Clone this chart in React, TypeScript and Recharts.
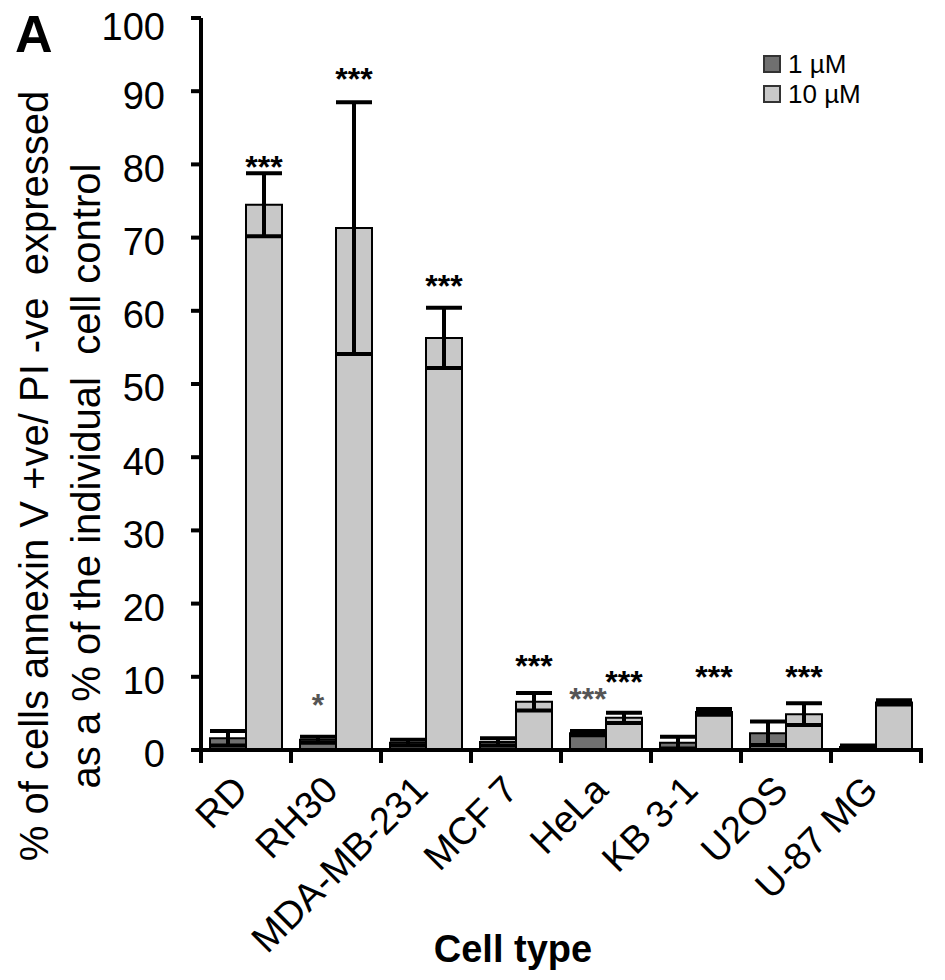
import React from 'react';
import { ComposedChart, Bar, ErrorBar, XAxis, YAxis, Scatter, Legend, Label } from 'recharts';

const cellTypes = ['RD', 'RH30', 'MDA-MB-231', 'MCF 7', 'HeLa', 'KB 3-1', 'U2OS', 'U-87 MG'];
const mean1uM = [1.6, 1.4, 1.0, 1.1, 2.3, 1.0, 2.3, 0.4];
const err1uM = [1.0, 0.4, 0.4, 0.5, 0.3, 0.8, 1.6, 0.2];
const mean10uM = [74.5, 71.3, 56.3, 6.6, 4.4, 5.2, 4.9, 6.5];
const err10uM = [4.3, 17.2, 4.1, 1.2, 0.7, 0.4, 1.5, 0.3];
const sig1uM = ['', '*', '', '', '***', '', '', ''];
const sig10uM = ['***', '***', '***', '***', '***', '***', '***', ''];
const sigLevel1uM = [null, 7.2, null, null, 7.9, null, null, null];
const sigLevel10uM = [80.6, 92.7, 64.4, 12.4, 10.3, 11.0, 11.0, null];
const yTicks = [0, 10, 20, 30, 40, 50, 60, 70, 80, 90, 100];
const seriesNames = ['1 µM', '10 µM'];

const data = cellTypes.map((name, i) => ({
  name,
  v1: mean1uM[i],
  e1: err1uM[i],
  v10: mean10uM[i],
  e10: err10uM[i],
  s1: sig1uM[i],
  s10: sig10uM[i],
  l1: sigLevel1uM[i] ?? 0,
  l10: sigLevel10uM[i] ?? 0,
}));

const FONT = '"Liberation Sans", Arial, Helvetica, sans-serif';
const DARK = '#707070';
const LIGHT = '#c8c8c8';
const BAR = 36;

const XTick = (props: any) => {
  const { x, y, payload, index, visibleTicksCount } = props;
  const half = payload && typeof payload.offset === 'number' && payload.offset > 0 ? payload.offset : 45;
  const count = visibleTicksCount || cellTypes.length;
  return (
    <g>
      <line x1={x - half} x2={x - half} y1={y - 2} y2={y + 13} stroke="#000" strokeWidth={4} />
      {index === count - 1 && (
        <line x1={x + half} x2={x + half} y1={y - 2} y2={y + 13} stroke="#000" strokeWidth={4} />
      )}
      <g transform={`translate(${x + 4},${y + 42})`}>
        <text transform="rotate(-45)" textAnchor="end" fontSize={38} fontFamily={FONT} fill="#000">
          {payload.value}
        </text>
      </g>
    </g>
  );
};

const YTick = (props: any) => {
  const { x, y, payload, index } = props;
  const shift = index === yTicks.length - 1 ? 8 : 4;
  return (
    <text x={x} y={y + shift} dy="0.355em" textAnchor="end" fontSize={38} fontFamily={FONT} fill="#000">
      {payload.value}
    </text>
  );
};

const makeStar = (key: 's1' | 's10', dx: number, color: string) => (props: any) => {
  const { cx, cy, payload } = props;
  if (!payload || !payload[key] || !isFinite(cx) || !isFinite(cy)) return <g />;
  return (
    <text x={cx + dx} y={cy} dy="0.57em" textAnchor="middle" fontSize={32} fontWeight="bold" fontFamily={FONT} fill={color}>
      {payload[key]}
    </text>
  );
};

const LegendContent = () => (
  <div style={{ fontFamily: FONT, fontSize: 26, color: '#000', lineHeight: '30px' }}>
    {[DARK, LIGHT].map((c, i) => (
      <div key={i} style={{ display: 'flex', alignItems: 'center' }}>
        <span style={{ display: 'inline-block', width: 14, height: 14, background: c, border: '2px solid #333', marginRight: 7 }} />
        <span>{seriesNames[i]}</span>
      </div>
    ))}
  </div>
);

const YLabel = () => (
  <g fontFamily={FONT} fontSize={40} fill="#000">
    <text transform="translate(40,468) rotate(-90)" textAnchor="middle" style={{ whiteSpace: 'pre' }}>
      {'% of cells annexin V +ve/ PI -ve  expressed'}
    </text>
    <text transform="translate(92,468) rotate(-90)" textAnchor="middle" style={{ whiteSpace: 'pre' }}>
      {'as a % of the individual  cell control'}
    </text>
    <text x={7} y={44} fontSize={52} fontWeight="bold">A</text>
  </g>
);

const XLabel = () => (
  <text x={505} y={954} textAnchor="middle" fontFamily={FONT} fontSize={38} fontWeight="bold" fill="#000">
    Cell type
  </text>
);

export default function App() {
  return (
    <ComposedChart
      width={929}
      height={964}
      data={data}
      margin={{ top: 10, right: 16, left: 73, bottom: 42 }}
      barGap={0}
    >
      <XAxis
        dataKey="name"
        interval={0}
        tick={<XTick />}
        tickLine={false}
        tickSize={0}
        tickMargin={0}
        axisLine={{ stroke: '#000', strokeWidth: 4 }}
        height={180}
      >
        <Label content={<XLabel />} />
      </XAxis>
      <YAxis
        domain={[0, 100]}
        ticks={yTicks}
        interval={0}
        width={120}
        tickSize={10}
        tickMargin={26}
        tick={<YTick />}
        axisLine={{ stroke: '#000', strokeWidth: 4 }}
        tickLine={{ stroke: '#000', strokeWidth: 4 }}
      >
        <Label content={<YLabel />} />
      </YAxis>
      <Legend
        layout="horizontal"
        verticalAlign="middle"
        align="center"
        content={<LegendContent />}
        wrapperStyle={{ position: 'absolute', left: 755, top: 41, width: 'auto' }}
      />
      <Bar dataKey="v1" name={seriesNames[0]} fill={DARK} stroke="#000" strokeWidth={2} barSize={BAR} isAnimationActive={false}>
        <ErrorBar dataKey="e1" width={18} strokeWidth={4} stroke="#000" />
      </Bar>
      <Bar dataKey="v10" name={seriesNames[1]} fill={LIGHT} stroke="#000" strokeWidth={2} barSize={BAR} isAnimationActive={false}>
        <ErrorBar dataKey="e10" width={18} strokeWidth={4} stroke="#000" />
      </Bar>
      <Scatter dataKey="l1" shape={makeStar('s1', -BAR / 2, '#555')} isAnimationActive={false} legendType="none" />
      <Scatter dataKey="l10" shape={makeStar('s10', BAR / 2, '#000')} isAnimationActive={false} legendType="none" />
    </ComposedChart>
  );
}
